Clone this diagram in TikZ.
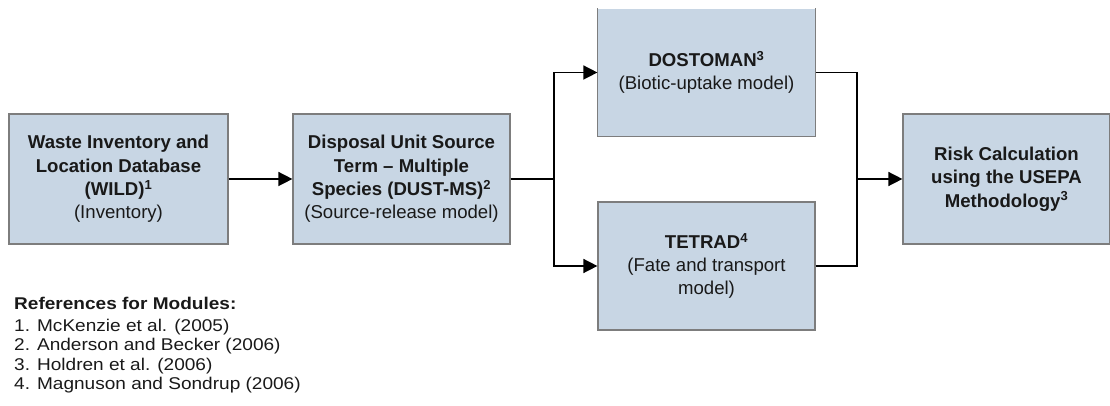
\documentclass[tikz,border=0pt]{standalone}
\usepackage{fontspec}
\setmainfont{Liberation Sans}
\newfontfamily\reffont{Liberation Sans}[FakeStretch=1.12]
\usetikzlibrary{arrows.meta}
\definecolor{boxfill}{RGB}{200,214,228}
\definecolor{boxline}{RGB}{125,125,125}
\definecolor{ink}{RGB}{25,25,25}

\begin{document}
\begin{tikzpicture}[x=1pt,y=1pt,
  module/.style={rectangle, fill=boxfill, draw=boxline, line width=1.2pt,
    minimum height=130pt, inner sep=0pt, text=ink, align=center,
    font=\fontsize{18.6}{23.3}\selectfont},
  link/.style={line width=1.5pt, draw=black},
  feed/.style={link, -{Triangle[length=14pt,width=14pt]}},
  reftext/.style={anchor=base west, inner sep=0pt, text=ink,
    font=\reffont\fontsize{17}{19.5}\selectfont}]

\useasboundingbox (0,0) rectangle (1110,406);

% processing chain
\node[module, minimum width=219pt] (wild) at (118.5,227)
  {\textbf{Waste Inventory and}\\\textbf{Location Database}\\\textbf{(WILD)\textsuperscript{1}}\\(Inventory)};
\node[module, minimum width=217pt] (dust) at (401.5,227)
  {\textbf{Disposal Unit Source}\\\textbf{Term -- Multiple}\\\textbf{Species (DUST-MS)\textsuperscript{2}}\\(Source-release model)};
\node[module, draw=none, minimum width=217pt, minimum height=127pt] (dost) at (706.5,333.5)
  {\textbf{DOSTOMAN\textsuperscript{3}}\\(Biotic-uptake model)};
\draw[boxline, line width=1.2pt] (dost.north west) -- (dost.south west)
  -- (dost.south east) -- (dost.north east);
\node[module, minimum width=217pt, minimum height=128pt] (tetrad) at (706.5,140)
  {\textbf{TETRAD\textsuperscript{4}}\\(Fate and transport\\model)};
\node[module, minimum width=207pt] (risk) at (1006.5,227)
  {\textbf{Risk Calculation}\\\textbf{using the USEPA}\\\textbf{Methodology\textsuperscript{3}}};

% branch points
\coordinate (split) at (554,227);
\coordinate (merge) at (857,227);

% connectors
\draw[feed] (wild.east) -- (dust.west);
\draw[link] (dust.east) -- (split);
\draw[feed] (split) |- (dost.west);
\draw[feed] (split) |- (tetrad.west);
\draw[link] (dost.east) -| (merge);
\draw[link] (tetrad.east) -| (merge);
\draw[feed] (merge) -- (risk.west);

% reference list
\node[reftext] (refhead) at (14,96) {\textbf{References for Modules:}};
\node[reftext] (ref1) at (14,74.5) {1. McKenzie et al. (2005)};
\node[reftext] (ref2) at (14,55) {2. Anderson and Becker (2006)};
\node[reftext] (ref3) at (14,35.5) {3. Holdren et al. (2006)};
\node[reftext] (ref4) at (14,16) {4. Magnuson and Sondrup (2006)};
\end{tikzpicture}
\end{document}
